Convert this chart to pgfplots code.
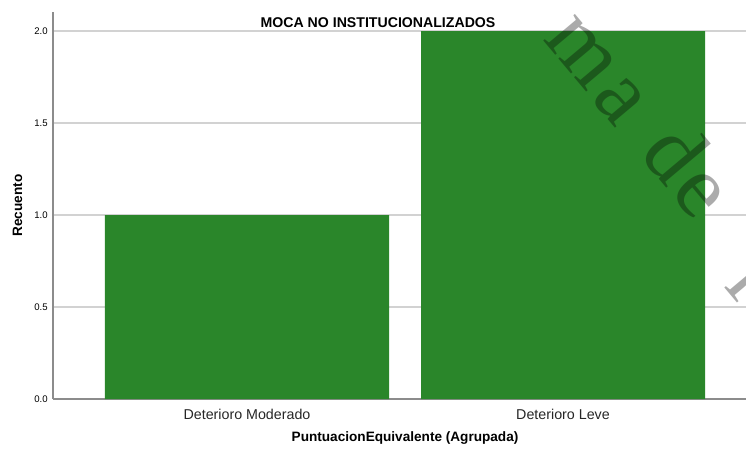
\documentclass[border=0pt]{standalone}
\usepackage{pgfplots}
\pgfplotsset{compat=1.18}
\usepackage{fontspec}
\setmainfont{Liberation Sans}
\newfontfamily\wmfont{Liberation Serif}
\definecolor{barg}{RGB}{42,134,42}
\definecolor{gridg}{RGB}{210,210,210}
\definecolor{axg}{RGB}{140,140,140}
\begin{document}
\begin{tikzpicture}
\path[use as bounding box] (0,0) rectangle (559.5pt,338.25pt);
\begin{axis}[
  at={(39.75pt,39pt)}, anchor=south west,
  scale only axis, width=519.75pt, height=290.25pt,
  xmin=-0.6139, xmax=1.5791, ymin=0, ymax=2.1033,
  axis x line*=bottom, axis y line*=left,
  axis line style={-, draw=axg, line width=0.8pt},
  major tick length=0pt,
  xtick={0,1}, xticklabels={Deterioro Moderado, Deterioro Leve},
  ytick={0,0.5,1,1.5,2},
  yticklabel style={/pgf/number format/fixed, /pgf/number format/precision=1, /pgf/number format/fixed zerofill, font=\fontsize{7.2}{8}\selectfont, inner sep=0pt, anchor=east, xshift=-3.75pt},
  /pgf/number format/assume math mode=true,
  xticklabel style={font=\fontsize{10.7}{12}\selectfont, color=black!85, anchor=base, inner sep=0pt, yshift=-15pt},
  ymajorgrids, grid style={gridg, line width=0.8pt},
  every axis title shift=0pt,
  title={MOCA NO INSTITUCIONALIZADOS},
  title style={at={(axis description cs:0.469,0.9612)}, anchor=base, font=\bfseries\fontsize{10.6}{12}\selectfont, inner sep=0pt},
  xlabel={PuntuacionEquivalente (Agrupada)},
  xlabel style={at={(axis description cs:0.508,-0.111)}, anchor=base, font=\bfseries\fontsize{10.2}{12}\selectfont, inner sep=0pt},
  ylabel={Recuento},
  ylabel style={at={(axis description cs:-0.0447,0.5)}, anchor=base, font=\bfseries\fontsize{10.2}{12}\selectfont, inner sep=0pt},
]
\addplot[ybar, bar width=213pt, fill=barg, draw=none] coordinates {(0,1) (1,2)};
\end{axis}
\begin{scope}[x=0.75pt,y=0.75pt]
\clip (0,0) rectangle (746,451);
\node[rotate=-50, anchor=base west, inner sep=0pt, outer sep=0pt, text=black, text opacity=0.33, font=\wmfont\fontsize{67.5}{70}\selectfont] at (542,411) {m\kern4.5pt a\hspace{25.5pt}d\kern3pt e\hspace{50pt}p};
\end{scope}
\end{tikzpicture}
\end{document}
